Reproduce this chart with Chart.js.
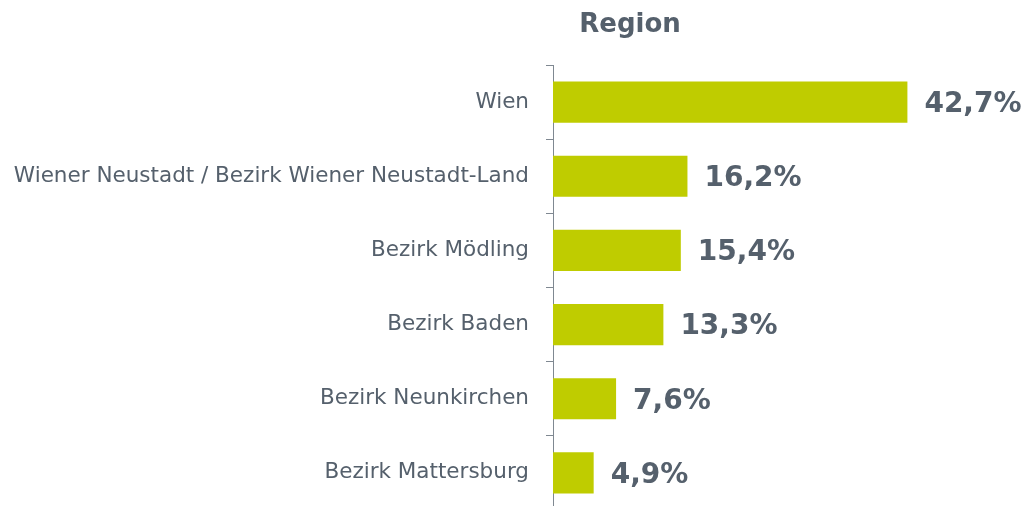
<!DOCTYPE html>
<html>
<head>
<meta charset="utf-8">
<script src="https://cdn.jsdelivr.net/npm/chart.js@4"></script>
<style>
  html, body { margin: 0; padding: 0; background: #fff; overflow: hidden; }
  #wrap { position: absolute; left: 0; top: 0; width: 1026px; height: 510px; }
</style>
</head>
<body>
<div id="wrap"><canvas id="regionChart"></canvas></div>
<script>
const categories = [
  "Wien",
  "Wiener Neustadt / Bezirk Wiener Neustadt-Land",
  "Bezirk Mödling",
  "Bezirk Baden",
  "Bezirk Neunkirchen",
  "Bezirk Mattersburg"
];
const shares = [42.7, 16.2, 15.4, 13.3, 7.6, 4.9];
const chartTitle = "Region";

const textColor = "#55606c";
const axisColor = "#7f8891";
const font = "'DejaVu Sans', Verdana, sans-serif";

const titlePlugin = {
  id: "titleText",
  afterDraw(chart) {
    const ctx = chart.ctx;
    ctx.save();
    ctx.font = "bold 26px " + font;
    ctx.fillStyle = textColor;
    ctx.textAlign = "center";
    ctx.textBaseline = "alphabetic";
    ctx.fillText(chartTitle, 630, 32);
    ctx.restore();
  }
};

const valueLabels = {
  id: "valueLabels",
  afterDatasetsDraw(chart) {
    const ctx = chart.ctx;
    const meta = chart.getDatasetMeta(0);
    ctx.save();
    ctx.font = "bold 28px " + font;
    ctx.fillStyle = textColor;
    ctx.textAlign = "left";
    ctx.textBaseline = "middle";
    meta.data.forEach((bar, i) => {
      const txt = shares[i].toFixed(1).replace(".", ",") + "%";
      ctx.fillText(txt, bar.x + 17, bar.y + 2.5);
    });
    ctx.restore();
  }
};

document.addEventListener("DOMContentLoaded", function () {
  const ctx = document.getElementById("regionChart").getContext("2d");
  new Chart(ctx, {
    type: "bar",
    data: {
      labels: categories,
      datasets: [
        {
          data: shares,
          backgroundColor: "#bfcc00",
          borderWidth: 0,
          barPercentage: 0.555,
          categoryPercentage: 1
        }
      ]
    },
    options: {
      indexAxis: "y",
      responsive: true,
      maintainAspectRatio: false,
      animation: false,
      layout: { padding: { top: 65, right: 58, bottom: 0, left: 0 } },
      plugins: {
        legend: { display: false },
        tooltip: { enabled: false }
      },
      scales: {
        x: {
          display: false,
          min: 0,
          max: 50
        },
        y: {
          afterFit(scale) {
            scale.width = 553;
            scale.paddingTop = 0;
            scale.paddingBottom = 0;
          },
          border: { display: true, color: axisColor, width: 1 },
          grid: {
            drawOnChartArea: false,
            tickLength: 7,
            color: axisColor,
            offset: true
          },
          ticks: {
            color: textColor,
            padding: 17,
            font: { family: font, size: 21.5 }
          }
        }
      }
    },
    plugins: [titlePlugin, valueLabels]
  });
});
</script>
</body>
</html>
